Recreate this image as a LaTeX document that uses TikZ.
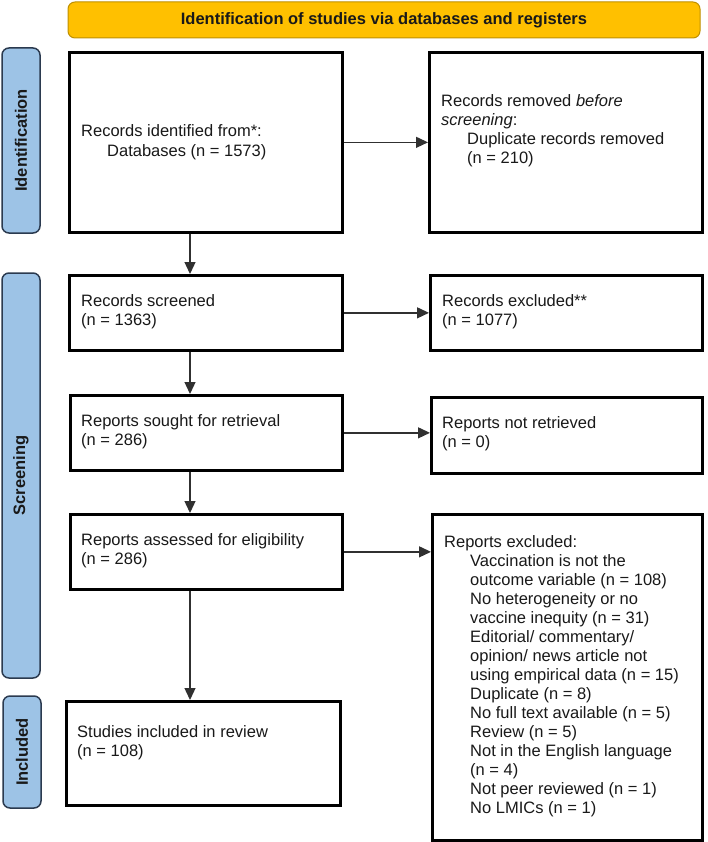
\documentclass[tikz,border=0pt]{standalone}
\usepackage{fontspec}
\setmainfont{Liberation Sans}
\usetikzlibrary{arrows.meta}
\definecolor{bannerfill}{HTML}{FFC000}
\definecolor{bannerdraw}{HTML}{BF9000}
\definecolor{phasefill}{HTML}{9DC3E6}
\definecolor{phasedraw}{HTML}{2B3A4F}
\definecolor{arrowcol}{HTML}{303030}
\begin{document}
\begin{tikzpicture}[x=1pt,y=-1pt,
  basefont/.style={font=\fontsize{16.5}{19}\selectfont},
  box/.style={draw=black, line width=2.7pt, fill=white, inner sep=0pt, anchor=north west},
  banner/.style={draw=bannerdraw, line width=1pt, fill=bannerfill, rounded corners=7pt,
    inner sep=0pt, font=\fontsize{16.5}{19}\selectfont\bfseries, text=black!90},
  phase/.style={draw=phasedraw, line width=1.5pt, fill=phasefill, rounded corners=7pt,
    inner sep=0pt, rotate=90, font=\fontsize{16.5}{19}\selectfont\bfseries, text=black!90},
  txt/.style={inner sep=0pt, anchor=base west, basefont, text=black!90},
  arr/.style={draw=arrowcol, line width=1.3pt, -{Triangle[length=12pt,width=11pt]}}]
\useasboundingbox (0,0) rectangle (707,842);

% banner
\node[banner, minimum width=632pt, minimum height=36pt] (ban) at (384,20)
  {Identification of studies via databases and registers};

% phase labels
\node[phase, minimum width=185pt, minimum height=38pt] (pid) at (21,140.5) {Identification};
\node[phase, minimum width=405pt, minimum height=38pt] (pscr) at (21,475.5) {Screening};
\node[phase, minimum width=112pt, minimum height=38pt] (pinc) at (22,752) {Included};

% boxes
\node[box, minimum width=273pt, minimum height=180pt] (id1) at (68,51) {};
\node[box, minimum width=273pt, minimum height=180pt] (id2) at (428,51) {};
\node[box, minimum width=273pt, minimum height=75pt] (scr) at (68,274) {};
\node[box, minimum width=272pt, minimum height=75pt] (exc) at (429,274) {};
\node[box, minimum width=272pt, minimum height=75pt] (sought) at (69,394) {};
\node[box, minimum width=271pt, minimum height=76pt] (notret) at (430,396) {};
\node[box, minimum width=272pt, minimum height=75pt] (assess) at (69,513) {};
\node[box, minimum width=270pt, minimum height=326pt] (repexc) at (431,513) {};
\node[box, minimum width=274pt, minimum height=104pt] (incl) at (65,700) {};

% texts
\node[txt] (t1a) at (81,137) {Records identified from*:};
\node[txt] (t1b) at (107,157) {Databases (n = 1573)};
\node[txt] (t2a) at (441,107) {Records removed \textit{before}};
\node[txt] (t2b) at (441,126) {\textit{screening}:};
\node[txt] (t2c) at (467,145) {Duplicate records removed};
\node[txt] (t2d) at (467,164) {(n = 210)};
\node[txt] (t3a) at (81,306) {Records screened};
\node[txt] (t3b) at (81,325) {(n = 1363)};
\node[txt] (t4a) at (442,306) {Records excluded**};
\node[txt] (t4b) at (442,325) {(n = 1077)};
\node[txt] (t5a) at (81,426) {Reports sought for retrieval};
\node[txt] (t5b) at (81,445) {(n = 286)};
\node[txt] (t6a) at (442,428) {Reports not retrieved};
\node[txt] (t6b) at (442,447) {(n = 0)};
\node[txt] (t7a) at (81,545) {Reports assessed for eligibility};
\node[txt] (t7b) at (81,564) {(n = 286)};
\node[txt] (t8) at (444,547) {Reports excluded:};
\foreach \k/\s in {1/{Vaccination is not the},
                   2/{outcome variable (n = 108)},
                   3/{No heterogeneity or no},
                   4/{vaccine inequity (n = 31)},
                   5/{Editorial/ commentary/},
                   6/{opinion/ news article not},
                   7/{using empirical data (n = 15)},
                   8/{Duplicate (n = 8)},
                   9/{No full text available (n = 5)},
                   10/{Review (n = 5)},
                   11/{Not in the English language},
                   12/{(n = 4)},
                   13/{Not peer reviewed (n = 1)},
                   14/{No LMICs (n = 1)}}
  {\node[txt] (t8\k) at (470,{547+19*\k}) {\s};}
\node[txt] (t9a) at (77,737) {Studies included in review};
\node[txt] (t9b) at (77,756) {(n = 108)};

% connectors
\coordinate (ax) at (190,0);
\draw[arr] (id1.east) -- (id1.east -| id2.west);
\draw[arr] (scr.east) -- (scr.east -| exc.west);
\draw[arr] (sought.east) -- (sought.east -| notret.west);
\draw[arr] (assess.east) -- (assess.east -| repexc.west);
\draw[arr] (id1.south -| ax) -- (scr.north -| ax);
\draw[arr] (scr.south -| ax) -- (sought.north -| ax);
\draw[arr] (sought.south -| ax) -- (assess.north -| ax);
\draw[arr] (assess.south -| ax) -- (incl.north -| ax);
\end{tikzpicture}
\end{document}
